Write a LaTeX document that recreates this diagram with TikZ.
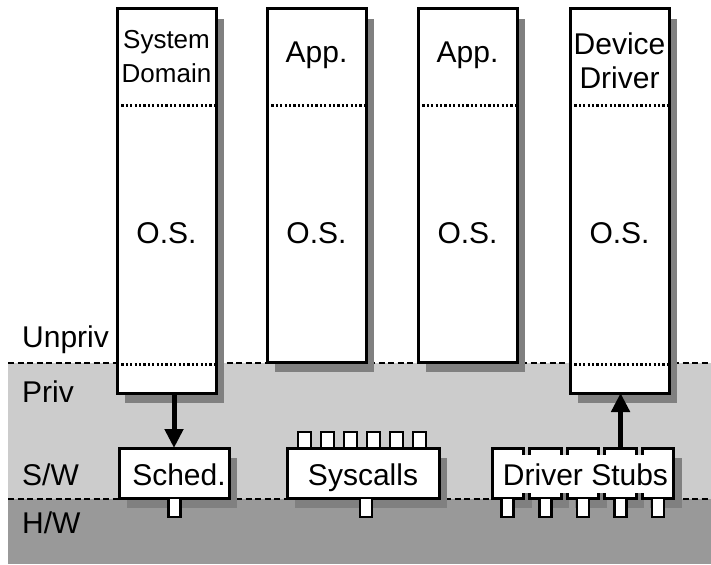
\documentclass[tikz,border=0pt]{standalone}
\usepackage{fontspec}
\setmainfont{Liberation Sans}
\usetikzlibrary{arrows.meta,shadows}
\definecolor{lightband}{RGB}{204,204,204}
\definecolor{darkband}{RGB}{153,153,153}
\definecolor{shadowgray}{RGB}{128,128,128}
\begin{document}
\begin{tikzpicture}[x=1pt,y=-1pt,
  box/.style={draw=black, line width=3pt, fill=white, rectangle, inner sep=0pt, outer sep=0pt, anchor=north west,
    general shadow={fill=shadowgray, shadow xshift=8pt, shadow yshift=-10pt}},
  pin/.style={draw=black, line width=2.6pt, fill=white, rectangle, inner sep=0pt, outer sep=0pt, minimum width=12pt},
  lab/.style={font=\fontsize{30}{34}\selectfont, inner sep=0pt, anchor=base},
  sidelab/.style={lab, anchor=base west},
  dashline/.style={line width=2.5pt, dash pattern=on 6pt off 3.5pt},
  dotline/.style={line width=3pt, dash pattern=on 2.2pt off 2.2pt},
  bigarrow/.style={line width=5pt, -{Triangle[width=18pt,length=19pt]}}
]
\useasboundingbox (0,0) rectangle (711,564);
% bands
\fill[lightband] (8,363) rectangle (711,499);
\fill[darkband] (8,499) rectangle (711,564);
\coordinate (dl1) at (8,363);
\coordinate (dr1) at (711,363);
\coordinate (dl2) at (8,499);
\coordinate (dr2) at (711,499);
\draw[dashline] (dl1) -- (dr1);
\draw[dashline] (dl2) -- (dr2);

% columns
\node[box, minimum width=99pt, minimum height=384pt] (c1) at (117,9) {};
\node[box, minimum width=99pt, minimum height=353pt] (c2) at (267,9) {};
\node[box, minimum width=99pt, minimum height=353pt] (c3) at (418,9) {};
\node[box, minimum width=99pt, minimum height=384pt] (c4) at (570,9) {};

\coordinate (ytop) at (0,106);
\coordinate (ybot) at (0,364);
\draw[dotline] (c1.west |- ytop) -- (c1.east |- ytop);
\draw[dotline] (c2.west |- ytop) -- (c2.east |- ytop);
\draw[dotline] (c3.west |- ytop) -- (c3.east |- ytop);
\draw[dotline] (c4.west |- ytop) -- (c4.east |- ytop);
\draw[dotline] (c1.west |- ybot) -- (c1.east |- ybot);
\draw[dotline] (c4.west |- ybot) -- (c4.east |- ybot);

% column labels
\node[font=\fontsize{26}{34}\selectfont, inner sep=0pt, align=center] (t1) at (166.5,57) {System\\Domain};
\node[lab] (t2) at (316.5,63) {App.};
\node[lab] (t3) at (467.5,63) {App.};
\node[font=\fontsize{30}{34}\selectfont, inner sep=0pt, align=center] (t4) at (619.5,61) {Device\\Driver};
\node[lab] (o1) at (166.5,243) {O.S.};
\node[lab] (o2) at (316.5,243) {O.S.};
\node[lab] (o3) at (467.5,243) {O.S.};
\node[lab] (o4) at (619.5,243) {O.S.};

% side labels
\node[sidelab] (lu) at (22,347) {Unpriv};
\node[sidelab] (lp) at (22,402) {Priv};
\node[sidelab] (ls) at (22,485) {S/W};
\node[sidelab] (lh) at (22,533) {H/W};

% bottom boxes
\node[box, minimum width=110pt, minimum height=50pt] (sched) at (119,448) {};
\node[box, minimum width=152pt, minimum height=50pt] (sys) at (287,448) {};
\node[box, minimum width=31.5pt, minimum height=50pt] (s1) at (492,448) {};
\node[box, minimum width=31.5pt, minimum height=50pt] (s2) at (529.6,448) {};
\node[box, minimum width=31.5pt, minimum height=50pt] (s3) at (567.2,448) {};
\node[box, minimum width=31.5pt, minimum height=50pt] (s4) at (604.8,448) {};
\node[box, minimum width=31.5pt, minimum height=50pt] (s5) at (642.4,448) {};

% pins
\node[pin, minimum height=19pt, anchor=north] (ps) at (174.5,498) {};
\node[pin, minimum height=19pt, anchor=north] (py) at (366,498) {};
\foreach \i in {1,...,5} {
  \node[pin, minimum height=19pt, anchor=north] (pd\i) at (s\i.south) {};
}
\foreach \k [count=\j] in {304.5,327.5,350.5,373.5,396.5,419.5} {
  \node[pin, minimum width=13pt, minimum height=16pt, anchor=south] (pt\j) at (\k,448) {};
}

% box texts
\node[lab] (tsched) at (179,485) {Sched.};
\node[lab] (tsys) at (363,485) {Syscalls};
\node[lab, fill=white, inner xsep=3pt, inner ysep=8pt] (tstub) at (585.5,485) {Driver Stubs};

% arrows
\draw[bigarrow] (c1.south -| sched.north) -- (sched.north);
\draw[bigarrow] (s4.north) -- (s4.north |- c4.south);
\end{tikzpicture}
\end{document}
